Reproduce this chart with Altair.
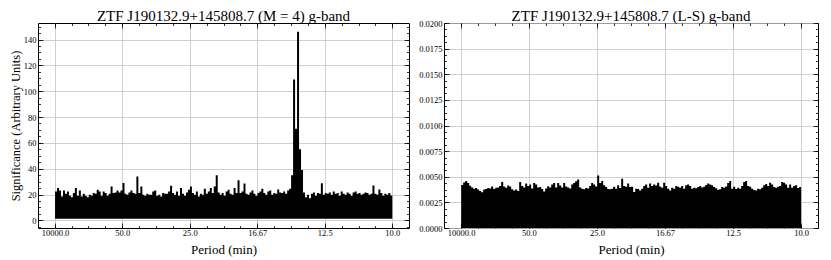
import altair as alt
import numpy as np
import pandas as pd

# ---------------- data ----------------
PERIOD_TICK_FREQS = [0.0001, 0.02, 0.04, 0.06, 0.08, 0.1]       # cycles / min
PERIOD_TICK_LABELS = ["10000.0", "50.0", "25.0", "16.67", "12.5", "10.0"]

F_MIN, F_MAX, N_BINS = 0.0001, 0.1, 170

# multi-harmonic (M = 4) significance, upper envelope per frequency bin
sig_left = [
    22.4, 25.0, 23.2, 18.5, 23.2, 20.6, 22.4, 19.0, 18.0, 21.1,
    25.0, 19.0, 23.2, 18.5, 20.6, 19.0, 18.0, 19.8, 19.0, 21.1,
    20.6, 23.7, 22.4, 19.0, 22.4, 21.1, 19.0, 20.6, 26.3, 21.1,
    21.6, 23.2, 21.6, 23.2, 28.9, 20.6, 19.8, 21.6, 23.2, 21.1,
    20.6, 34.0, 21.1, 26.3, 19.8, 19.0, 20.6, 19.8, 19.8, 22.4,
    23.2, 19.0, 19.8, 18.5, 21.1, 20.6, 20.6, 22.4, 26.8, 21.1,
    19.8, 22.4, 19.0, 25.0, 20.6, 19.0, 21.6, 23.7, 26.3, 21.1,
    19.8, 22.4, 18.5, 20.6, 19.8, 24.5, 20.6, 22.4, 25.0, 21.1,
    26.3, 35.0, 21.6, 19.8, 21.1, 19.0, 22.4, 23.7, 20.6, 19.8,
    25.0, 21.1, 31.0, 21.1, 22.4, 28.6, 20.6, 19.8, 21.6, 23.2,
    20.6, 19.0, 21.1, 22.4, 24.5, 21.1, 19.8, 22.4, 23.2, 19.8,
    21.1, 20.6, 24.0, 21.6, 21.1, 22.4, 20.6, 23.2, 24.5, 35.0,
    109.0, 71.0, 146.0, 55.0, 39.0, 21.5, 18.0, 19.8, 17.2, 20.6,
    21.6, 19.0, 21.1, 20.6, 28.8, 19.8, 21.1, 20.6, 21.6, 19.8,
    22.4, 20.6, 21.1, 19.0, 22.4, 20.6, 19.8, 21.6, 20.6, 19.0,
    21.6, 22.4, 20.6, 21.1, 19.8, 20.6, 21.6, 21.1, 19.8, 20.6,
    27.0, 20.6, 19.8, 24.0, 21.1, 19.0, 20.6, 19.8, 21.1, 19.3,
]
LEFT_FLOOR = 1.3

# Lomb-Scargle power, upper envelope per frequency bin
power_right = [
    0.00420, 0.00445, 0.00458, 0.00440, 0.00412, 0.00395, 0.00383, 0.00390, 0.00375, 0.00362,
    0.00350, 0.00375, 0.00380, 0.00390, 0.00385, 0.00405, 0.00380, 0.00392, 0.00395, 0.00410,
    0.00450, 0.00405, 0.00393, 0.00415, 0.00405, 0.00378, 0.00365, 0.00375, 0.00360, 0.00448,
    0.00410, 0.00395, 0.00435, 0.00410, 0.00425, 0.00385, 0.00440, 0.00425, 0.00395, 0.00400,
    0.00380, 0.00355, 0.00385, 0.00408, 0.00395, 0.00425, 0.00440, 0.00395, 0.00440, 0.00415,
    0.00395, 0.00440, 0.00405, 0.00395, 0.00385, 0.00425, 0.00440, 0.00455, 0.00474, 0.00395,
    0.00383, 0.00377, 0.00390, 0.00385, 0.00410, 0.00440, 0.00425, 0.00405, 0.00513, 0.00440,
    0.00458, 0.00416, 0.00400, 0.00380, 0.00377, 0.00383, 0.00403, 0.00383, 0.00416, 0.00390,
    0.00481, 0.00409, 0.00403, 0.00435, 0.00400, 0.00403, 0.00351, 0.00383, 0.00380, 0.00365,
    0.00383, 0.00409, 0.00425, 0.00393, 0.00435, 0.00409, 0.00425, 0.00415, 0.00442, 0.00405,
    0.00393, 0.00442, 0.00410, 0.00383, 0.00365, 0.00393, 0.00383, 0.00409, 0.00403, 0.00393,
    0.00409, 0.00383, 0.00416, 0.00425, 0.00410, 0.00383, 0.00393, 0.00388, 0.00400, 0.00409,
    0.00395, 0.00403, 0.00420, 0.00435, 0.00425, 0.00416, 0.00400, 0.00388, 0.00372, 0.00377,
    0.00400, 0.00393, 0.00405, 0.00440, 0.00458, 0.00383, 0.00403, 0.00380, 0.00393, 0.00383,
    0.00409, 0.00448, 0.00458, 0.00409, 0.00403, 0.00383, 0.00370, 0.00365, 0.00383, 0.00377,
    0.00393, 0.00416, 0.00430, 0.00409, 0.00442, 0.00425, 0.00400, 0.00393, 0.00403, 0.00409,
    0.00448, 0.00442, 0.00425, 0.00393, 0.00425, 0.00393, 0.00409, 0.00416, 0.00390, 0.00400,
]
RIGHT_FLOOR = 0.0

LEFT_Y_MAJOR = [0, 20, 40, 60, 80, 100, 120, 140]
LEFT_Y_MINOR = list(range(-5, 155, 5))
RIGHT_Y_MAJOR = [0.0, 0.0025, 0.005, 0.0075, 0.01, 0.0125, 0.015, 0.0175, 0.02]
RIGHT_Y_MINOR = [i * 0.000625 for i in range(0, 33)]
X_MINOR = [i * 0.005 for i in range(0, 21)]

TITLE_LEFT = "ZTF J190132.9+145808.7 (M = 4) g-band"
TITLE_RIGHT = "ZTF J190132.9+145808.7 (L-S) g-band"

# ---------------- chart ----------------
FONT = "Liberation Serif"
X_DOMAIN = [-0.00495, 0.10495]
W_LEFT, W_RIGHT, H = 371, 374, 205

edges = np.linspace(F_MIN, F_MAX, N_BINS + 1)


def step_frame(vals, floor):
    v = list(vals) + [vals[-1]]
    return pd.DataFrame({"f": edges, "v": v, "base": floor})


label_expr = " : ".join(
    f"abs(datum.value - {f}) < 1e-7 ? '{l}'" for f, l in zip(PERIOD_TICK_FREQS, PERIOD_TICK_LABELS)
) + " : ''"


def panel(df, title, ydom, ymaj, ymin, yfmt, ytitle, width, title_offset):
    xs = alt.Scale(domain=X_DOMAIN, nice=False, zero=False)
    ys = alt.Scale(domain=ydom, nice=False, zero=False)
    yaxis_kw = dict(values=ymaj, format=yfmt, grid=True, ticks=False, domain=False,
                    labelPadding=2, labelFontSize=8.5)
    if ytitle:
        yaxis_kw.update(title=ytitle, titleFontSize=12.5, titlePadding=1)
    else:
        yaxis_kw.update(title=None)
    base = alt.Chart(df).mark_area(color="black", interpolate="step-after").encode(
        x=alt.X("f:Q", scale=xs,
                axis=alt.Axis(values=PERIOD_TICK_FREQS, labelExpr=label_expr, grid=True,
                              ticks=False, domain=False, title="Period (min)",
                              labelPadding=0, labelFontSize=8.5, titleFontSize=13,
                              titlePadding=7)),
        y=alt.Y("v:Q", scale=ys, axis=alt.Axis(**yaxis_kw)),
        y2="base:Q",
    )
    dummy = pd.DataFrame({"f": [0.05], "v": [(ydom[0] + ydom[1]) / 2]})

    def tick_layer(xo, yo, xv, yv, size):
        return alt.Chart(dummy).mark_point(opacity=0).encode(
            x=alt.X("f:Q", scale=xs,
                    axis=alt.Axis(orient=xo, values=xv, labels=False, grid=False, domain=False,
                                  ticks=True, tickSize=size, offset=-size, title=None)),
            y=alt.Y("v:Q", scale=ys,
                    axis=alt.Axis(orient=yo, values=yv, labels=False, grid=False, domain=False,
                                  ticks=True, tickSize=size, offset=-size, title=None)),
        )

    layers = [
        base,
        tick_layer("bottom", "left", PERIOD_TICK_FREQS, ymaj, 5),
        tick_layer("top", "right", PERIOD_TICK_FREQS, ymaj, 5),
        tick_layer("bottom", "left", X_MINOR, ymin, 2.5),
        tick_layer("top", "right", X_MINOR, ymin, 2.5),
    ]
    return alt.layer(*layers).resolve_axis(x="independent", y="independent").properties(
        width=width, height=H,
        title=alt.TitleParams(title, font=FONT, fontSize=15, fontWeight="normal",
                              anchor="middle", frame="group", offset=title_offset, dy=-4,
                              color="black"),
    )


left = panel(step_frame(sig_left, LEFT_FLOOR), TITLE_LEFT, [-5.9, 152.8],
             LEFT_Y_MAJOR, LEFT_Y_MINOR, "d", "Significance (Arbitrary Units)", W_LEFT, -5)
right = panel(step_frame(power_right, RIGHT_FLOOR), TITLE_RIGHT, [0, 0.02],
              RIGHT_Y_MAJOR, RIGHT_Y_MINOR, ".4f", None, W_RIGHT, -9.25)

chart = alt.hconcat(left, right, spacing=8).properties(
    padding={"left": 0, "top": 0, "right": 0, "bottom": 0}
).configure_view(
    stroke="black", strokeWidth=1
).configure_axis(
    labelFont=FONT, titleFont=FONT, labelColor="black", titleColor="black",
    titleFontWeight="normal", tickColor="black", tickWidth=0.8,
    gridColor="#c4c4c4", gridWidth=0.8,
)

chart.save("out.html", embed_options={"renderer": "svg", "actions": False})
